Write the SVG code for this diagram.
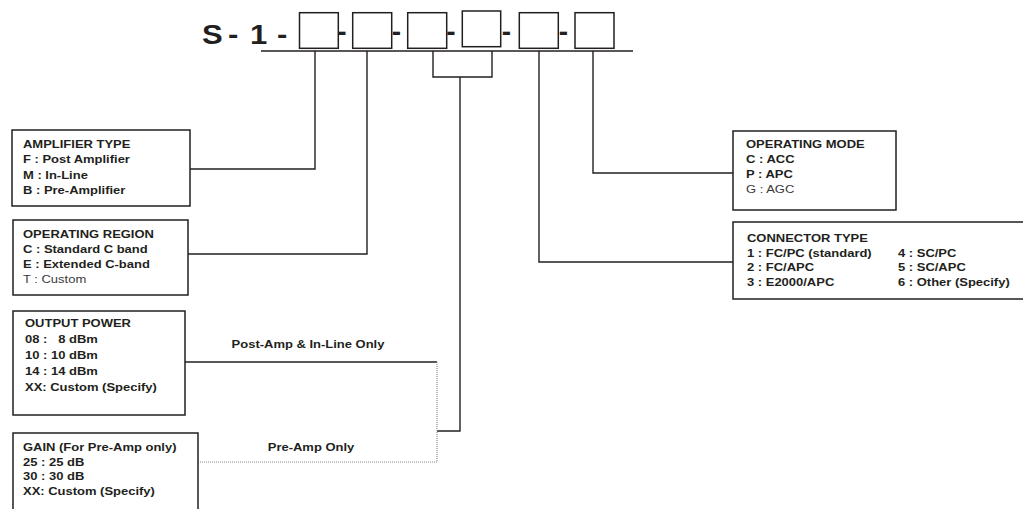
<svg xmlns="http://www.w3.org/2000/svg" width="1023" height="509" viewBox="0 0 1023 509">
<style>
.bx{fill:#fff;stroke:#231f20;stroke-width:1.5}
.ln{fill:none;stroke:#231f20;stroke-width:1.4}
.dot{fill:none;stroke:#8a8a8a;stroke-width:1.2;stroke-dasharray:1 1}
text{font-family:"Liberation Sans",Arial,Helvetica,sans-serif;fill:#231f20}
.t{font-size:11.3px;font-weight:bold}
.n{font-size:11.3px;font-weight:normal;fill:#3c3a3b}
.ti{font-size:27px;font-weight:bold}
.sep{font-size:28px;font-weight:bold;text-anchor:middle}
</style>
<rect width="1023" height="509" fill="#fff"/>

<g id="code">
  <text class="ti" transform="translate(202 44) scale(1.15 1)" x="0 17 22.6 33 41.7 57 65.2">S - 1 -</text>
  <rect class="bx" x="299.5" y="12.7" width="38.8" height="35.6"/>
  <rect class="bx" x="352.7" y="12.7" width="39" height="35.6"/>
  <rect class="bx" x="407.7" y="12.7" width="39" height="35.6"/>
  <rect class="bx" x="462.3" y="11" width="38.4" height="35.7"/>
  <rect class="bx" x="519.3" y="12.7" width="39" height="35.6"/>
  <rect class="bx" x="575" y="12.7" width="39" height="35.6"/>
  <text class="sep" x="342" y="41">-</text>
  <text class="sep" x="396.5" y="41">-</text>
  <text class="sep" x="451" y="41">-</text>
  <text class="sep" x="506.5" y="41">-</text>
  <text class="sep" x="563.5" y="41">-</text>
</g>

<g id="connectors">
  <line class="ln" x1="261" y1="51" x2="633" y2="51"/>
  <polyline class="ln" points="315,51 315,169 190,169"/>
  <polyline class="ln" points="367,51 367,254 188,254"/>
  <polyline class="ln" points="433,51 433,77 492,77 492,51"/>
  <polyline class="ln" points="460,77 460,431 437,431"/>
  <line class="ln" x1="185" y1="362" x2="437" y2="362"/>
  <polyline class="dot" points="437,362 437,462 198,462"/>
  <polyline class="ln" points="539,51 539,262 733,262"/>
  <polyline class="ln" points="593,51 593,173 733,173"/>
  <text class="t" transform="translate(308 348) scale(1.15 1)" text-anchor="middle">Post-Amp &amp; In-Line Only</text>
  <text class="t" transform="translate(311 451) scale(1.15 1)" text-anchor="middle">Pre-Amp Only</text>
</g>

<g id="amplifier-type">
  <rect class="bx" x="12" y="130" width="178" height="76"/>
  <g transform="translate(23 0) scale(1.15 1)">
    <text class="t" x="0" y="148">AMPLIFIER TYPE</text>
    <text class="t" x="0" y="163">F : Post Amplifier</text>
    <text class="t" x="0" y="179">M : In-Line</text>
    <text class="t" x="0" y="194">B : Pre-Amplifier</text>
  </g>
</g>

<g id="operating-region">
  <rect class="bx" x="13" y="220" width="175" height="75"/>
  <g transform="translate(23 0) scale(1.15 1)">
    <text class="t" x="0" y="238">OPERATING REGION</text>
    <text class="t" x="0" y="253">C : Standard C band</text>
    <text class="t" x="0" y="268">E : Extended C-band</text>
    <text class="n" x="0" y="283">T : Custom</text>
  </g>
</g>

<g id="output-power">
  <rect class="bx" x="13" y="311" width="172" height="104"/>
  <g transform="translate(25 0) scale(1.15 1)">
    <text class="t" x="0" y="327">OUTPUT POWER</text>
    <text class="t" x="0" y="343">08 : <tspan x="28.9">8 dBm</tspan></text>
    <text class="t" x="0" y="359">10 : 10 dBm</text>
    <text class="t" x="0" y="375">14 : 14 dBm</text>
    <text class="t" x="0" y="391">XX: Custom (Specify)</text>
  </g>
</g>

<g id="gain">
  <rect class="bx" x="13" y="433" width="185" height="90"/>
  <g transform="translate(23 0) scale(1.15 1)">
    <text class="t" x="0" y="451">GAIN (For Pre-Amp only)</text>
    <text class="t" x="0" y="466">25 : 25 dB</text>
    <text class="t" x="0" y="480">30 : 30 dB</text>
    <text class="t" x="0" y="495">XX: Custom (Specify)</text>
  </g>
</g>

<g id="operating-mode">
  <rect class="bx" x="733" y="131" width="163" height="79"/>
  <g transform="translate(746 0) scale(1.15 1)">
    <text class="t" x="0" y="148">OPERATING MODE</text>
    <text class="t" x="0" y="163">C : ACC</text>
    <text class="t" x="0" y="178">P : APC</text>
    <text class="n" x="0" y="193">G : AGC</text>
  </g>
</g>

<g id="connector-type">
  <rect class="bx" x="733" y="222" width="300" height="77"/>
  <g transform="translate(747 0) scale(1.15 1)">
    <text class="t" x="0" y="242">CONNECTOR TYPE</text>
    <text class="t" x="0" y="257">1 : FC/PC (standard)</text>
    <text class="t" x="0" y="271">2 : FC/APC</text>
    <text class="t" x="0" y="286">3 : E2000/APC</text>
    <text class="t" x="131.3" y="257">4 : SC/PC</text>
    <text class="t" x="131.3" y="271">5 : SC/APC</text>
    <text class="t" x="131.3" y="286">6 : Other (Specify)</text>
  </g>
</g>
</svg>
